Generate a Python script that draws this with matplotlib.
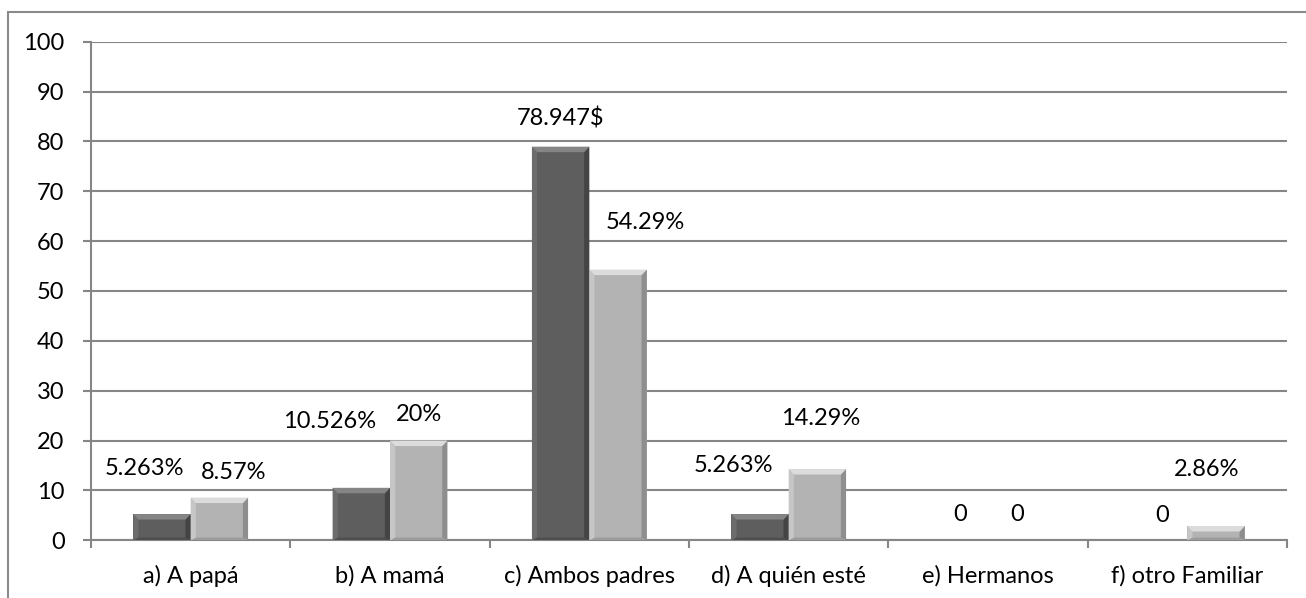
import numpy as np
import matplotlib.pyplot as plt
from matplotlib.patches import Polygon, Rectangle

# data
categories = ['a) A papá', 'b) A mamá', 'c) Ambos padres', 'd) A quién esté',
              'e) Hermanos', 'f) otro Familiar']
serie1 = [5.263, 10.526, 78.947, 5.263, 0, 0]
serie2 = [8.57, 20, 54.29, 14.29, 0, 2.86]
labels1 = ['5.263%', '10.526%', '78.947$', '5.263%', '0', '0']
labels2 = ['8.57%', '20%', '54.29%', '14.29%', '0', '2.86%']

# label offsets (pixels from bar top), placed by hand in the original
off1 = [(-18, 46), (-32, 66), (0, 28), (-27, 49), (1, 26), (3, 25)]
off2 = [(14, 25), (0, 26), (27, 47), (3, 51), (0, 26), (-9, 57)]

plt.rcParams['font.family'] = ['Lato', 'DejaVu Sans']

fig = plt.figure(figsize=(13.06, 5.98), dpi=100)
ax = fig.add_axes([91 / 1306, 1 - 540.3 / 598, (1287 - 91) / 1306, (540.3 - 41.7) / 598])

x = np.arange(len(categories))
w = 0.288
dark = '#5e5e5e'
light = '#b3b3b3'
b1 = ax.bar(x - w / 2, serie1, w, color=dark, zorder=3)
b2 = ax.bar(x + w / 2, serie2, w, color=light, zorder=3)

ax.set_xlim(-0.5, len(categories) - 0.5)
ax.set_ylim(0, 100)


def bevel(bars, top_c, left_c, right_c, bot_c):
    # fake excel bevel: four trapezoids around each bar face
    bx = 0.026
    for r in bars:
        x0, h, bw = r.get_x(), r.get_height(), r.get_width()
        if h <= 0:
            continue
        by = min(1.1, h / 2)
        x1 = x0 + bw
        polys = [
            ([(x0, 0), (x1, 0), (x1 - bx, by * 0.5), (x0 + bx, by * 0.5)], bot_c),
            ([(x0, 0), (x0, h), (x0 + bx, h - by), (x0 + bx, by * 0.5)], left_c),
            ([(x1, 0), (x1, h), (x1 - bx, h - by), (x1 - bx, by * 0.5)], right_c),
            ([(x0, h), (x1, h), (x1 - bx, h - by), (x0 + bx, h - by)], top_c),
        ]
        for pts, c in polys:
            ax.add_patch(Polygon(pts, closed=True, facecolor=c, edgecolor='none', zorder=4))


bevel(b1, '#858585', '#6c6c6c', '#444444', '#4e4e4e')
bevel(b2, '#dcdcdc', '#c6c6c6', '#8e8e8e', '#9c9c9c')

for bars, labs, offs in [(b1, labels1, off1), (b2, labels2, off2)]:
    for r, t, (dx, dy) in zip(bars, labs, offs):
        ax.annotate(t, (r.get_x() + r.get_width() / 2, r.get_height()),
                    xytext=(dx, dy), textcoords='offset pixels',
                    ha='center', va='center', fontsize=17, color='black', zorder=5)

grid_c = '#868686'
ax.set_yticks(np.arange(0, 101, 10))
ax.yaxis.grid(True, color=grid_c, linewidth=1.5)
ax.set_axisbelow(True)
for s in ['top', 'right']:
    ax.spines[s].set_visible(False)
for s in ['left', 'bottom']:
    ax.spines[s].set_color(grid_c)
    ax.spines[s].set_linewidth(1.5)

ax.set_xticks(x)
ax.set_xticklabels(categories)
ax.set_xticks(np.arange(-0.5, len(categories)), minor=True)
ax.tick_params(axis='x', which='major', length=0, pad=18, labelsize=17)
ax.tick_params(axis='x', which='minor', length=6, width=1.5, color=grid_c)
ax.tick_params(axis='y', length=6, width=1.5, color=grid_c, pad=13, labelsize=17)

# outer chart frame
fig.patches.append(Rectangle((8 / 1306, -0.1), 1.2, 1 - 12 / 598 + 0.1,
                             transform=fig.transFigure, fill=False,
                             edgecolor='#8a8a8a', linewidth=1.5))

fig.savefig('out.png', dpi=100)
